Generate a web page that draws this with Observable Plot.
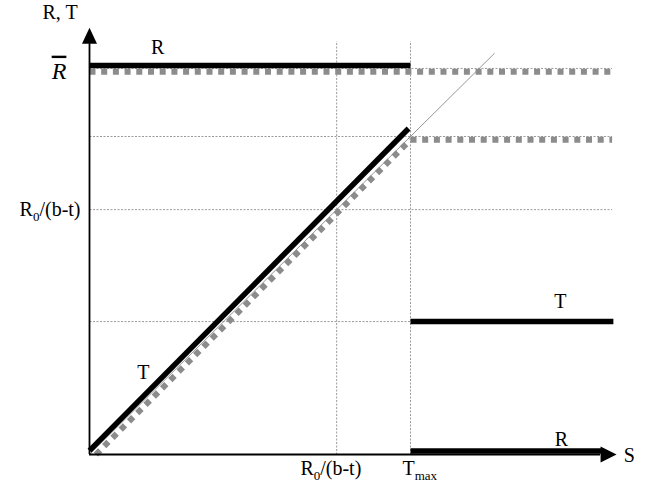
<!DOCTYPE html>
<html><head><meta charset="utf-8">
<script src="https://cdn.jsdelivr.net/npm/d3@7"></script>
<script src="https://cdn.jsdelivr.net/npm/@observablehq/plot@0.6"></script>
<style>body{margin:0;background:#fff;} svg{display:block;}</style>
</head><body><div id="chart"></div>
<script>
// S axis: 0 at origin, Tmax = 1 ; R/T axis normalised so that T = S (45° line)
const tMax = 1;
const rStar = 0.77;            // R0/(b-t)
const sEnd = 1.628;            // right end of drawn levels
const axisXEnd = 1.592;        // base of S arrow
const axisYEnd = 1.292;        // base of R,T arrow

const gridH = [
  {y: 1.214, x1: 0, x2: 1.628},
  {y: 1.0,   x1: 0, x2: 1.628},
  {y: 0.77,  x1: 0, x2: 1.628},
  {y: 0.418, x1: 0, x2: 1}
];
const gridV = [
  {x: 0.77, y1: 0, y2: 1.30},
  {x: 1,    y1: 0, y2: 1.30}
];
const line45 = [{x1: 0, y1: 0, x2: 1.262, y2: 1.262}];
const graySeg = [
  {x1: 0,    y1: 1.204, x2: 1.628, y2: 1.204},
  {x1: 1,    y1: 0.99,  x2: 1.628, y2: 0.99},
  {x1: 0.02, y1: 0,     x2: 1,     y2: 0.99}
];
const blackSeg = [
  {x1: 0, y1: 1.223, x2: 1,     y2: 1.223},
  {x1: 0, y1: 0.012, x2: 0.994, y2: 1.025},
  {x1: 1, y1: 0.418, x2: 1.632, y2: 0.418},
  {x1: 1, y1: 0.011, x2: 1.6,   y2: 0.011}
];
const labelsStart = [
  {text: "R0/(b-t)", x: 0.657, y: -0.043},
  {text: "Tmax",     x: 0.975, y: -0.043}
];
const labelsEnd = [
  {text: "R, T",     x: -0.037, y: 1.391},
  {text: "R0/(b-t)", x: -0.028, y: 0.77}
];
const labelsMid = [
  {text: "R", x: 0.212, y: 1.28},
  {text: "T", x: 0.168, y: 0.259},
  {text: "T", x: 1.467, y: 0.482},
  {text: "R", x: 1.470, y: 0.048},
  {text: "S", x: 1.682, y: -0.005}
];
const rBar = [{text: "R", x: -0.095, y: 1.206}];
const arrowsUp = [{x: 0, y: axisYEnd}];
const arrowsRight = [{x: axisXEnd, y: 0}];

const upHead = {draw(ctx) { ctx.moveTo(0, -16); ctx.lineTo(7.5, 0); ctx.lineTo(-7.5, 0); ctx.closePath(); }};
const rightHead = {draw(ctx) { ctx.moveTo(16, 0); ctx.lineTo(0, -8); ctx.lineTo(0, 8); ctx.closePath(); }};

const chart = Plot.plot({
  width: 648, height: 503,
  margin: 0,
  x: {domain: [0, tMax], range: [89, 410], axis: null},
  y: {domain: [0, 1], range: [454, 136], axis: null},
  style: {fontFamily: "Liberation Serif", background: "white"},
  marks: [
    Plot.link(gridH, {x1: "x1", x2: "x2", y1: "y", y2: "y", stroke: "#808080", strokeWidth: 0.8, strokeDasharray: "2,1.5"}),
    Plot.link(gridV, {x1: "x", x2: "x", y1: "y1", y2: "y2", stroke: "#808080", strokeWidth: 0.8, strokeDasharray: "2,1.5"}),
    Plot.link(line45, {x1: "x1", y1: "y1", x2: "x2", y2: "y2", stroke: "#8a8a8a", strokeWidth: 0.9}),
    Plot.link(graySeg, {x1: "x1", y1: "y1", x2: "x2", y2: "y2", stroke: "#8c8c8c", strokeWidth: 6, strokeDasharray: "6,5.7", strokeLinecap: "butt"}),
    Plot.link(blackSeg, {x1: "x1", y1: "y1", x2: "x2", y2: "y2", stroke: "black", strokeWidth: 5.5, strokeLinecap: "butt"}),
    Plot.ruleX([0], {y1: 0, y2: axisYEnd, stroke: "black", strokeWidth: 1.8}),
    Plot.ruleY([0], {x1: 0, x2: axisXEnd, stroke: "black", strokeWidth: 1.8}),
    Plot.dot(arrowsUp, {x: "x", y: "y", symbol: upHead, r: 5, fill: "black", stroke: "none"}),
    Plot.dot(arrowsRight, {x: "x", y: "y", symbol: rightHead, r: 5, fill: "black", stroke: "none"}),
    Plot.text(labelsStart, {x: "x", y: "y", text: "text", textAnchor: "start", fontSize: 20, fill: "black"}),
    Plot.text(labelsEnd, {x: "x", y: "y", text: "text", textAnchor: "end", fontSize: 20, fill: "black"}),
    Plot.text(labelsMid, {x: "x", y: "y", text: "text", textAnchor: "middle", fontSize: 20, fill: "black"}),
    Plot.text(rBar, {x: "x", y: "y", text: "text", textAnchor: "middle", fontSize: 24, fontStyle: "italic", fill: "black"})
  ]
});

const NS = "http://www.w3.org/2000/svg";
function rebuild(t, main, sub, rest) {
  t.textContent = "";
  const a = document.createElementNS(NS, "tspan"); a.textContent = main; t.appendChild(a);
  const b = document.createElementNS(NS, "tspan"); b.textContent = sub;
  b.setAttribute("dy", "5"); b.setAttribute("font-size", "13"); t.appendChild(b);
  if (rest) {
    const c = document.createElementNS(NS, "tspan"); c.textContent = rest;
    c.setAttribute("dy", "-5"); t.appendChild(c);
  }
}
chart.querySelectorAll("text").forEach(t => {
  const s = t.textContent;
  if (s === "R0/(b-t)") rebuild(t, "R", "0", "/(b-t)");
  else if (s === "Tmax") rebuild(t, "T", "max", "");
});
chart.querySelectorAll('g[font-style="italic"] text').forEach(t => {
  t.setAttribute("text-decoration", "overline");
  t.style.textDecoration = "overline";
});
document.getElementById("chart").appendChild(chart);
</script>
</body></html>
